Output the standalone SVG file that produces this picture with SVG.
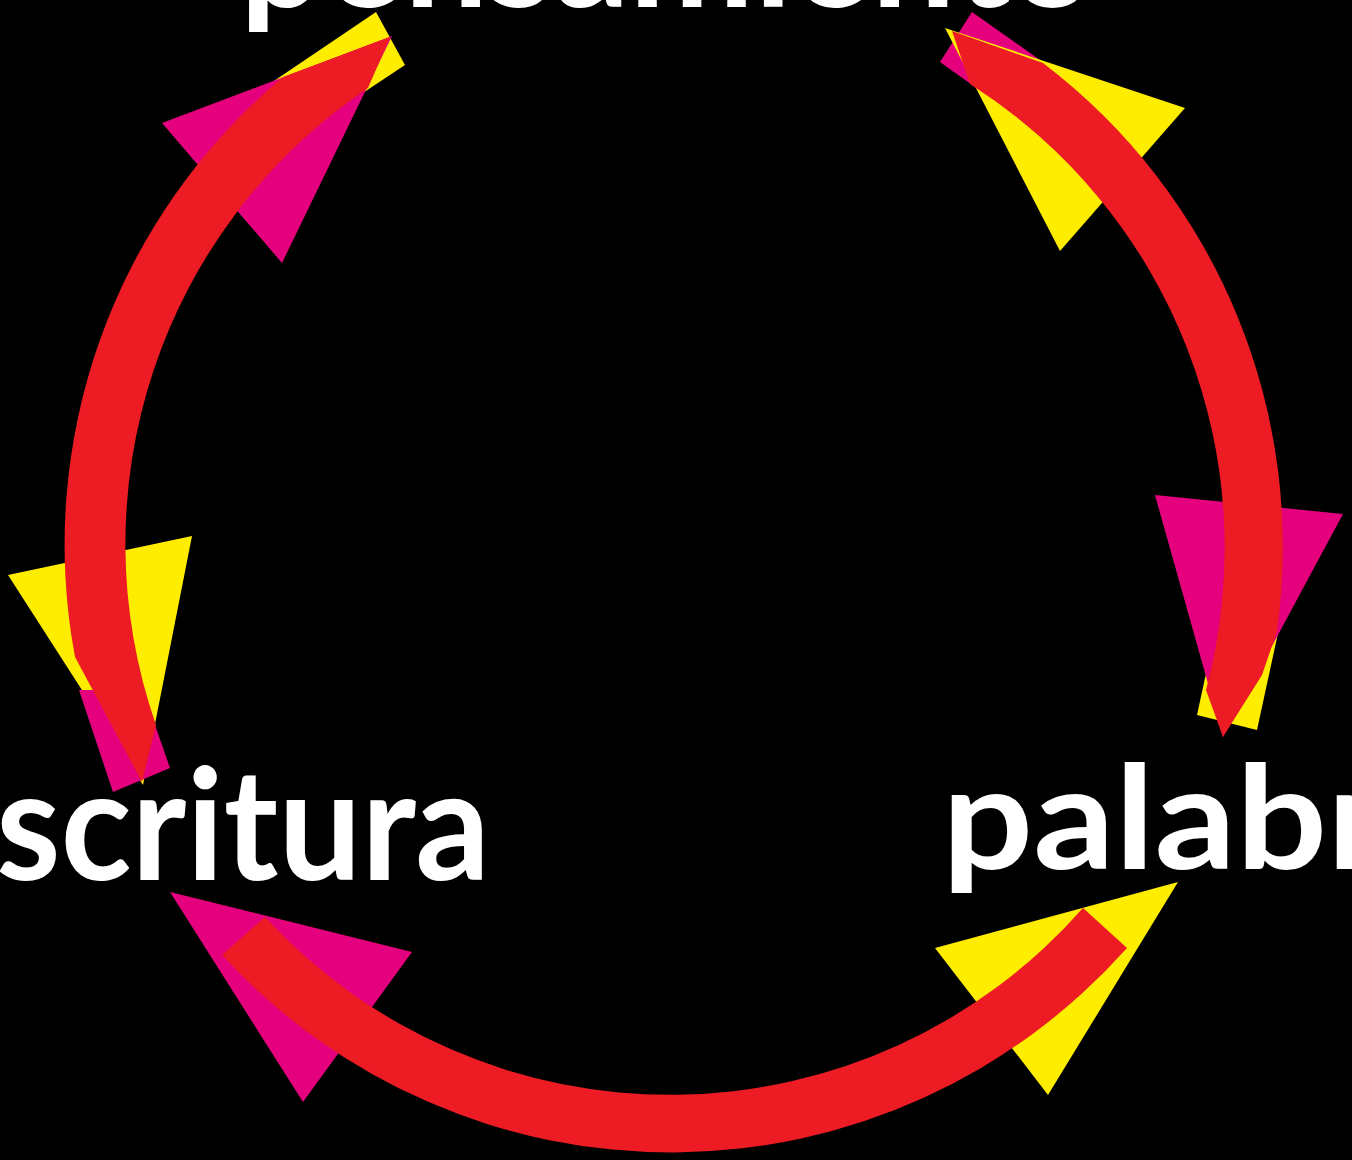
<svg xmlns="http://www.w3.org/2000/svg" width="1352" height="1160" viewBox="0 0 1352 1160">
<style>
.bg{fill:#000000}
.red{fill:#ED1C24}
.yel{fill:#FFED00}
.mag{fill:#E5007E}
.lbl{fill:#FFFFFF;font-family:Lato,"Open Sans","Liberation Sans",sans-serif;font-weight:700}
</style>
<rect class="bg" x="0" y="0" width="1352" height="1160"/>
<g id="connectors">
  <g id="band-ends">
    <polygon class="yel" points="376,12 405,65 310,128 265,87"/>
    <polygon class="mag" points="972,12 940,62 1010,112 1050,67"/>
    <polygon class="yel" points="1197,715 1257,730 1283,610 1223,595"/>
  </g>
  <g id="arrowheads">
    <polygon class="mag" points="162,123 282,263 392,36"/>
    <polygon class="yel" points="8,575 192,536 143,785"/>
    <polygon class="yel" points="945,28 1185,108 1060,251"/>
    <polygon class="mag" points="1155,495 1343,514 1223,737"/>
    <polygon class="yel" points="935,948 1178,882 1048,1095"/>
    <polygon class="mag" points="170,892 412,952 303,1102"/>
  </g>
  <polygon id="band-end-bl" class="mag" points="79,690 113,792 170,768 154,722 120,690"/>
  <g id="arcs">
    <path id="arc-escritura-pensamiento" class="red" d="M390,37 L368,88 A550,550 0 0 0 156,725 L142,782 L75,657 A610,610 0 0 1 283,77 Z"/>
    <path id="arc-pensamiento-palabra" class="red" d="M952,31 L970,84 A550,550 0 0 1 1206,690 L1223,737 L1262,675 L1277,631 A608,608 0 0 0 1043,63 Z"/>
    <path id="arc-palabra-escritura" class="red" d="M265,917 L222,955 A610,610 0 0 0 1127,948 L1083,908 A550,550 0 0 1 265,917 Z"/>
  </g>
</g>
<g id="node-pensamiento">
  <text class="lbl" x="240" y="7" font-size="152" textLength="855" lengthAdjust="spacingAndGlyphs">pensamiento</text>
</g>
<g id="node-escritura">
  <text class="lbl" x="-4" y="880" font-size="156" textLength="494" lengthAdjust="spacingAndGlyphs">scritura</text>
</g>
<g id="node-palabra">
  <text class="lbl" x="942" y="869" font-size="143" textLength="445" lengthAdjust="spacingAndGlyphs">palabr</text>
</g>
</svg>
